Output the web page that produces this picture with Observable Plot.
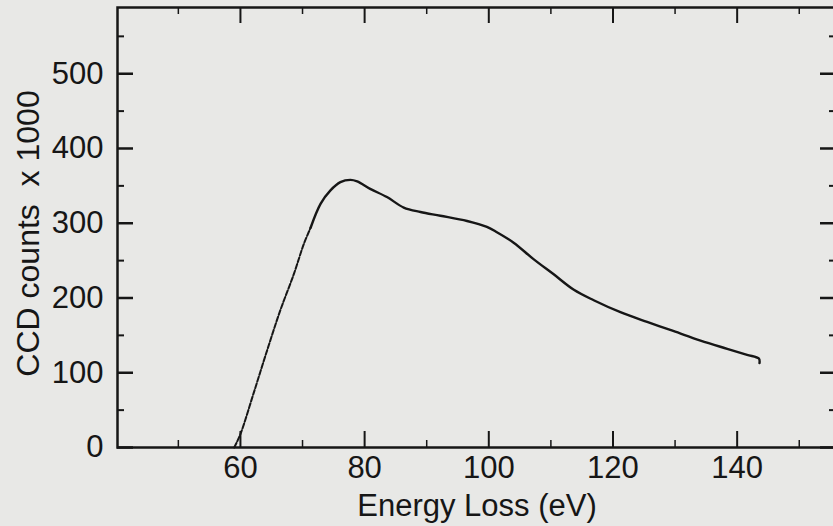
<!DOCTYPE html>
<html>
<head>
<meta charset="utf-8">
<script src="https://cdn.jsdelivr.net/npm/d3@7"></script>
<script src="https://cdn.jsdelivr.net/npm/@observablehq/plot@0.6"></script>
<style>
  html, body { margin: 0; padding: 0; background: #e8e8e6; overflow: hidden; }
  #chart svg { display: block; }
</style>
</head>
<body>
<div id="chart"></div>
<script>
// Curve (energy loss in eV, CCD counts x 1000)
const energy = [59.0, 60.0, 62.1, 64.3, 66.4, 68.6, 70.2, 71.3, 72.9, 74.5, 76.1, 77.7, 78.8, 80.9, 83.6, 86.3, 89.0, 92.2, 96.5, 99.7, 101.3, 104.0, 107.2, 110.4, 113.7, 116.9, 121.2, 125.5, 129.7, 134.1, 138.4, 141.6, 143.5, 143.6];
const counts = [0, 18, 72, 130, 183, 232, 272, 294, 326, 344, 355, 358, 356, 346, 335, 321, 315, 310, 303, 295, 288, 274, 252, 232, 211, 197, 181, 168, 156, 143, 132, 124, 119, 113];

// Axis ticks
const xMajorTicks = [60, 80, 100, 120, 140];
const xMinorTicks = [50, 70, 90, 110, 130, 150];
const yMajorTicks = [0, 100, 200, 300, 400, 500];
const yMinorTicks = [50, 150, 250, 350, 450, 550];

const xTitle = "Energy Loss (eV)";
const yTitle = "CCD counts  x 1000";

const data = energy.map((e, i) => ({energy: e, counts: counts[i]}));
const rising = data.filter(d => d.energy <= 71.3);
const rest = data.filter(d => d.energy >= 71.3);

const W = 833, H = 526;
const mL = 117, mR = -3, mT = 7, mB = 79;
const frameW = W - mL - mR;
const frameH = H - mT - mB;
const ink = "#161616";
const majorLen = 16, minorLen = 7;

const chart = Plot.plot({
  width: W,
  height: H,
  marginLeft: mL,
  marginRight: mR,
  marginTop: mT,
  marginBottom: mB,
  x: {domain: [40.2, 156]},
  y: {domain: [0, 588.6]},
  style: {
    background: "#e8e8e6",
    color: ink,
    fontFamily: "'Liberation Sans', Arial, Helvetica, sans-serif",
    fontSize: "31px"
  },
  marks: [
    // tick labels
    Plot.axisX(xMajorTicks, {tickSize: 0, tickPadding: 8, fontSize: 31, label: null, tickFormat: d => String(d)}),
    Plot.axisY(yMajorTicks, {tickSize: 0, tickPadding: 14, fontSize: 31, label: null, tickFormat: d => String(d)}),
    // inward ticks: bottom & top
    Plot.tickX(xMajorTicks, {x: d => d, insetTop: frameH - majorLen, stroke: ink, strokeWidth: 2}),
    Plot.tickX(xMinorTicks, {x: d => d, insetTop: frameH - minorLen, stroke: ink, strokeWidth: 1.5}),
    Plot.tickX(xMajorTicks, {x: d => d, insetBottom: frameH - majorLen, stroke: ink, strokeWidth: 2}),
    Plot.tickX(xMinorTicks, {x: d => d, insetBottom: frameH - minorLen, stroke: ink, strokeWidth: 1.5}),
    // inward ticks: left & right
    Plot.tickY(yMajorTicks, {y: d => d, insetRight: frameW - majorLen, stroke: ink, strokeWidth: 2.5}),
    Plot.tickY(yMinorTicks, {y: d => d, insetRight: frameW - minorLen, stroke: ink, strokeWidth: 2}),
    Plot.tickY(yMajorTicks, {y: d => d, insetLeft: frameW - majorLen, stroke: ink, strokeWidth: 2.5}),
    Plot.tickY(yMinorTicks, {y: d => d, insetLeft: frameW - minorLen, stroke: ink, strokeWidth: 2}),
    // frame
    Plot.frame({stroke: ink, strokeWidth: 2.5}),
    // curve
    Plot.line(rising, {x: "energy", y: "counts", stroke: ink, strokeWidth: 2, strokeDasharray: "5,2", curve: "catmull-rom"}),
    Plot.line(rest, {x: "energy", y: "counts", stroke: ink, strokeWidth: 2.4, curve: "catmull-rom"}),
    // axis titles
    Plot.text([xTitle], {text: d => d, frameAnchor: "bottom", dy: 68, lineAnchor: "bottom", textAnchor: "middle", fontSize: 31, fill: ink}),
    Plot.text([yTitle], {text: d => d, frameAnchor: "left", rotate: -90, dx: -79, dy: 6, lineAnchor: "bottom", textAnchor: "middle", fontSize: 32, fill: ink})
  ]
});

document.getElementById("chart").appendChild(chart);
</script>
</body>
</html>
